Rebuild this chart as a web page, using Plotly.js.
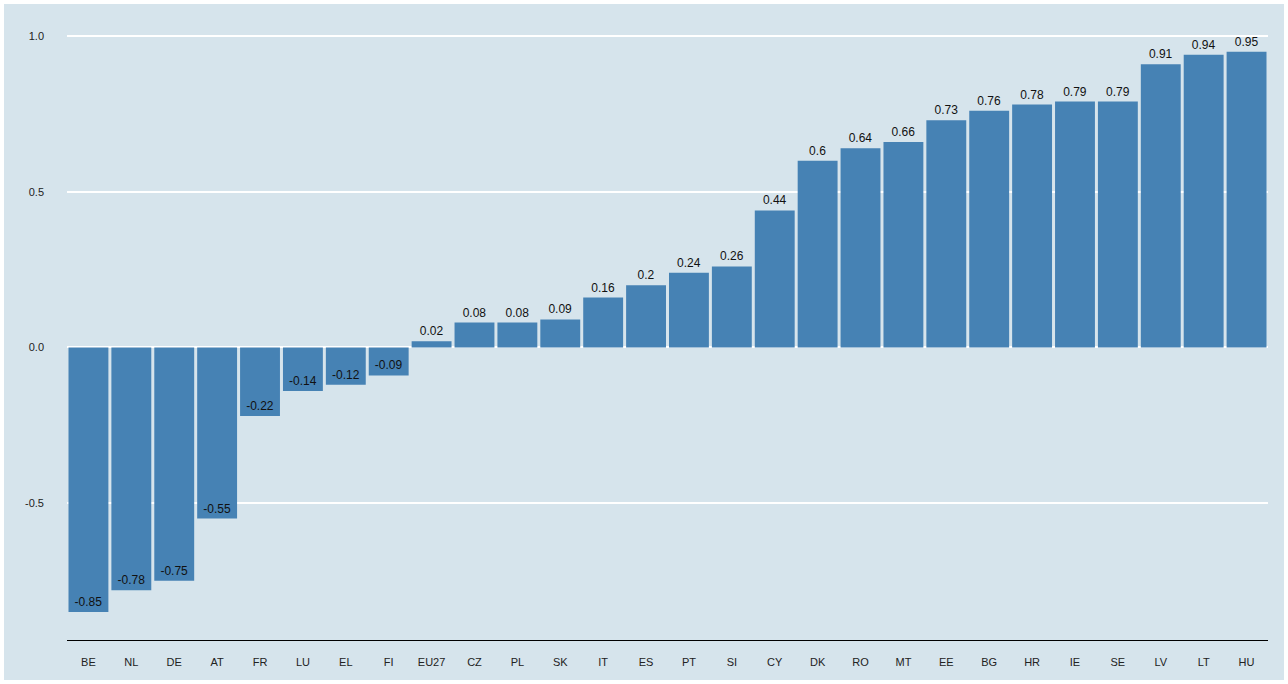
<!DOCTYPE html>
<html>
<head>
<meta charset="utf-8">
<script src="https://cdn.plot.ly/plotly-3.0.1.min.js"></script>
<style>
  body { margin: 0; background: #ffffff; }
  #chart { position: absolute; left: 4px; top: 4px; width: 1280px; height: 676px; }
</style>
</head>
<body>
<div id="chart"></div>
<script>
var countries = ['BE','NL','DE','AT','FR','LU','EL','FI','EU27','CZ','PL','SK','IT','ES','PT','SI','CY','DK','RO','MT','EE','BG','HR','IE','SE','LV','LT','HU'];
var values = [-0.85,-0.78,-0.75,-0.55,-0.22,-0.14,-0.12,-0.09,0.02,0.08,0.08,0.09,0.16,0.2,0.24,0.26,0.44,0.6,0.64,0.66,0.73,0.76,0.78,0.79,0.79,0.91,0.94,0.95];

var trace = {
  type: 'bar',
  x: countries,
  y: values,
  text: values.map(function (v) { return String(v); }),
  textposition: values.map(function (v) { return v < 0 ? 'inside' : 'outside'; }),
  insidetextanchor: 'end',
  textangle: 0,
  cliponaxis: false,
  textfont: { family: 'Liberation Sans, Arial, sans-serif', size: 12, color: '#111111' },
  marker: { color: '#4682b4' },
  hoverinfo: 'x+y'
};

var layout = {
  width: 1280,
  height: 676,
  margin: { l: 63, r: 16, t: 1, b: 40 },
  paper_bgcolor: '#d6e4ec',
  plot_bgcolor: '#d6e4ec',
  font: { family: 'Liberation Sans, Arial, sans-serif', size: 11, color: '#222222' },
  bargap: 0.07,
  showlegend: false,
  xaxis: {
    showgrid: false,
    showline: true,
    linecolor: '#000000',
    linewidth: 1,
    ticks: '',
    tickfont: { size: 11 },
    ticklabelstandoff: 12
  },
  yaxis: {
    range: [-0.94, 1.1],
    tickvals: [-0.5, 0, 0.5, 1.0],
    ticktext: ['-0.5', '0.0', '0.5', '1.0'],
    gridcolor: '#ffffff',
    gridwidth: 2,
    zeroline: true,
    zerolinecolor: '#ffffff',
    zerolinewidth: 2,
    ticks: '',
    ticklabelstandoff: 22,
    tickfont: { size: 11 }
  }
};

Plotly.newPlot('chart', [trace], layout, { staticPlot: true, displayModeBar: false });
</script>
</body>
</html>
